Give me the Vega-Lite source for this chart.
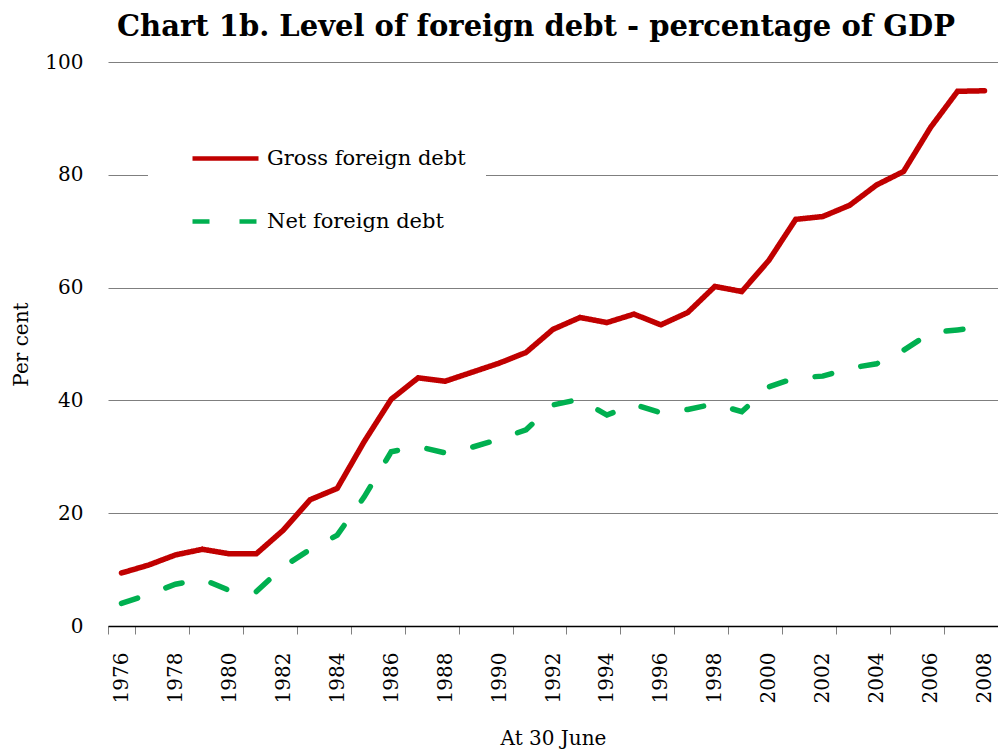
{
  "$schema": "https://vega.github.io/schema/vega-lite/v6.json",
  "width": 890,
  "height": 564,
  "autosize": {"type": "none"},
  "padding": {"left": 108, "top": 62, "right": 0, "bottom": 123},
  "background": "white",
  "config": {
    "font": "DejaVu Serif",
    "view": {"stroke": null},
    "axis": {"labelFont": "DejaVu Serif", "titleFont": "DejaVu Serif", "labelColor": "black", "titleColor": "black", "labelFontSize": 20, "titleFontSize": 20, "titleFontWeight": "normal"}
  },
  "title": {
    "text": "Chart 1b. Level of foreign debt - percentage of GDP",
    "font": "DejaVu Serif",
    "fontSize": 29,
    "fontWeight": "bold",
    "color": "black",
    "anchor": "middle",
    "baseline": "alphabetic",
    "offset": 22,
    "dy": 35,
    "dx": -17
  },
  "data": {
    "values": [
      {"year": 1976, "series": "Gross foreign debt", "value": 9.4},
      {"year": 1977, "series": "Gross foreign debt", "value": 10.8},
      {"year": 1978, "series": "Gross foreign debt", "value": 12.6},
      {"year": 1979, "series": "Gross foreign debt", "value": 13.6},
      {"year": 1980, "series": "Gross foreign debt", "value": 12.8},
      {"year": 1981, "series": "Gross foreign debt", "value": 12.8},
      {"year": 1982, "series": "Gross foreign debt", "value": 17.0},
      {"year": 1983, "series": "Gross foreign debt", "value": 22.4},
      {"year": 1984, "series": "Gross foreign debt", "value": 24.4},
      {"year": 1985, "series": "Gross foreign debt", "value": 32.7},
      {"year": 1986, "series": "Gross foreign debt", "value": 40.2},
      {"year": 1987, "series": "Gross foreign debt", "value": 44.0},
      {"year": 1988, "series": "Gross foreign debt", "value": 43.4},
      {"year": 1989, "series": "Gross foreign debt", "value": 45.0},
      {"year": 1990, "series": "Gross foreign debt", "value": 46.6},
      {"year": 1991, "series": "Gross foreign debt", "value": 48.5},
      {"year": 1992, "series": "Gross foreign debt", "value": 52.6},
      {"year": 1993, "series": "Gross foreign debt", "value": 54.7},
      {"year": 1994, "series": "Gross foreign debt", "value": 53.8},
      {"year": 1995, "series": "Gross foreign debt", "value": 55.3},
      {"year": 1996, "series": "Gross foreign debt", "value": 53.4},
      {"year": 1997, "series": "Gross foreign debt", "value": 55.6},
      {"year": 1998, "series": "Gross foreign debt", "value": 60.2},
      {"year": 1999, "series": "Gross foreign debt", "value": 59.3},
      {"year": 2000, "series": "Gross foreign debt", "value": 64.8},
      {"year": 2001, "series": "Gross foreign debt", "value": 72.1},
      {"year": 2002, "series": "Gross foreign debt", "value": 72.6},
      {"year": 2003, "series": "Gross foreign debt", "value": 74.6},
      {"year": 2004, "series": "Gross foreign debt", "value": 78.2},
      {"year": 2005, "series": "Gross foreign debt", "value": 80.6},
      {"year": 2006, "series": "Gross foreign debt", "value": 88.4},
      {"year": 2007, "series": "Gross foreign debt", "value": 94.8},
      {"year": 2008, "series": "Gross foreign debt", "value": 94.9},
      {"year": 1976, "series": "Net foreign debt", "value": 4.0},
      {"year": 1977, "series": "Net foreign debt", "value": 5.6},
      {"year": 1978, "series": "Net foreign debt", "value": 7.4},
      {"year": 1979, "series": "Net foreign debt", "value": 8.3},
      {"year": 1980, "series": "Net foreign debt", "value": 6.3},
      {"year": 1981, "series": "Net foreign debt", "value": 6.1},
      {"year": 1982, "series": "Net foreign debt", "value": 10.5},
      {"year": 1983, "series": "Net foreign debt", "value": 13.6},
      {"year": 1984, "series": "Net foreign debt", "value": 16.1},
      {"year": 1985, "series": "Net foreign debt", "value": 22.9},
      {"year": 1986, "series": "Net foreign debt", "value": 30.9},
      {"year": 1987, "series": "Net foreign debt", "value": 31.8},
      {"year": 1988, "series": "Net foreign debt", "value": 30.7},
      {"year": 1989, "series": "Net foreign debt", "value": 31.7},
      {"year": 1990, "series": "Net foreign debt", "value": 33.1},
      {"year": 1991, "series": "Net foreign debt", "value": 34.8},
      {"year": 1992, "series": "Net foreign debt", "value": 39.2},
      {"year": 1993, "series": "Net foreign debt", "value": 40.2},
      {"year": 1994, "series": "Net foreign debt", "value": 37.4},
      {"year": 1995, "series": "Net foreign debt", "value": 39.3},
      {"year": 1996, "series": "Net foreign debt", "value": 37.8},
      {"year": 1997, "series": "Net foreign debt", "value": 38.4},
      {"year": 1998, "series": "Net foreign debt", "value": 39.4},
      {"year": 1999, "series": "Net foreign debt", "value": 38.0},
      {"year": 2000, "series": "Net foreign debt", "value": 42.4},
      {"year": 2001, "series": "Net foreign debt", "value": 44.0},
      {"year": 2002, "series": "Net foreign debt", "value": 44.3},
      {"year": 2003, "series": "Net foreign debt", "value": 45.7},
      {"year": 2004, "series": "Net foreign debt", "value": 46.5},
      {"year": 2005, "series": "Net foreign debt", "value": 48.9},
      {"year": 2006, "series": "Net foreign debt", "value": 52.0},
      {"year": 2007, "series": "Net foreign debt", "value": 52.5},
      {"year": 2008, "series": "Net foreign debt", "value": 53.1}
    ]
  },
  "mark": {"type": "line", "strokeWidth": 5.5, "strokeCap": "round", "strokeJoin": "miter"},
  "encoding": {
    "x": {
      "field": "year",
      "type": "ordinal",
      "scale": {"paddingInner": 0, "paddingOuter": 0},
      "axis": {
        "title": "At 30 June",
        "values": [1976, 1978, 1980, 1982, 1984, 1986, 1988, 1990, 1992, 1994, 1996, 1998, 2000, 2002, 2004, 2006, 2008],
        "tickBand": "extent",
        "labelAngle": -90,
        "labelAlign": "right",
        "labelBaseline": "middle",
        "labelPadding": 18,
        "tickSize": 8,
        "tickColor": "#808080",
        "domainColor": "black",
        "domainWidth": 1.5,
        "grid": false,
        "titlePadding": 26
      }
    },
    "y": {
      "field": "value",
      "type": "quantitative",
      "scale": {"domain": [0, 100], "nice": false},
      "axis": {
        "title": "Per cent",
        "values": [0, 20, 40, 60, 80, 100],
        "domain": false,
        "ticks": false,
        "grid": true,
        "gridColor": "#7f7f7f",
        "gridWidth": 1,
        "labelPadding": 25,
        "titlePadding": 13
      }
    },
    "color": {
      "field": "series",
      "type": "nominal",
      "scale": {"domain": ["Gross foreign debt", "Net foreign debt"], "range": ["#C00000", "#00B050"]},
      "legend": {
        "title": null,
        "orient": "none",
        "legendX": 40,
        "legendY": 41,
        "fillColor": "white",
        "padding": 20,
        "symbolType": "stroke",
        "symbolSize": 4356,
        "symbolStrokeWidth": 4.5,
        "symbolOffset": 22,
        "labelFont": "DejaVu Serif",
        "labelFontSize": 21,
        "labelColor": "black",
        "labelOffset": 6,
        "rowPadding": 17,
        "labelLimit": 400
      }
    },
    "strokeDash": {
      "field": "series",
      "type": "nominal",
      "scale": {"domain": ["Gross foreign debt", "Net foreign debt"], "range": [[1, 0], [17, 30]]},
      "legend": null
    }
  }
}
